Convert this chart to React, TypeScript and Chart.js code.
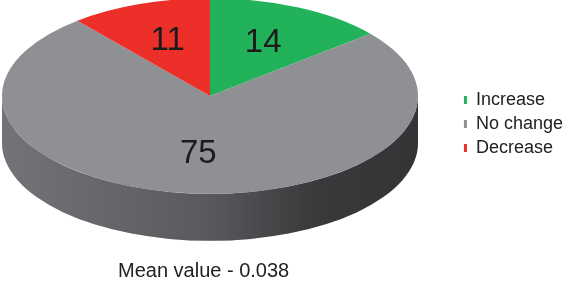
import React, { useEffect, useRef } from 'react';
import { Chart, registerables } from 'chart.js';

Chart.register(...registerables);

// ---- data ----
const categories = ['Increase', 'No change', 'Decrease'];
const values = [14, 75, 11];
const titleText = 'Mean value - 0.038';

// ---- style ----
const sliceColors = ['#22b25a', '#8e9094', '#ec2f29'];
const FONT = "'Liberation Sans', Arial, sans-serif";
const PIE_X = 210;
const PIE_Y = 96;
const TILT = 0.47;
const DEPTH = 47;
const RADIUS = 208;
const LABEL_POS = 0.6;

const pie3d = {
  id: 'pie3d',
  beforeDatasetsDraw(chart: any) {
    const ctx = chart.ctx as CanvasRenderingContext2D;
    const arcs = chart.getDatasetMeta(0).data as any[];
    if (!arcs.length) return;
    const cx = arcs[0].x;
    const cy = arcs[0].y;
    // side walls (front half only)
    ctx.save();
    arcs.forEach((arc, i) => {
      const { startAngle, endAngle, outerRadius } = arc.getProps(['startAngle', 'endAngle', 'outerRadius'], true);
      const R = outerRadius;
      for (let k = -1; k <= 2; k++) {
        const lo = Math.max(startAngle, k * 2 * Math.PI);
        const hi = Math.min(endAngle, k * 2 * Math.PI + Math.PI);
        if (hi <= lo) continue;
        ctx.beginPath();
        ctx.ellipse(PIE_X, PIE_Y, R, R * TILT, 0, lo, hi, false);
        ctx.ellipse(PIE_X, PIE_Y + DEPTH, R, R * TILT, 0, hi, lo, true);
        ctx.closePath();
        ctx.fillStyle = sliceColors[i];
        ctx.fill();
        const g = ctx.createLinearGradient(PIE_X - R, 0, PIE_X + R, 0);
        g.addColorStop(0, 'rgba(0,0,0,0.2)');
        g.addColorStop(0.5, 'rgba(0,0,0,0.38)');
        g.addColorStop(0.75, 'rgba(0,0,0,0.6)');
        g.addColorStop(1, 'rgba(0,0,0,0.64)');
        ctx.fillStyle = g;
        ctx.fill();
      }
    });
    ctx.restore();
    // tilt the top face
    ctx.save();
    ctx.translate(PIE_X, PIE_Y);
    ctx.scale(1, TILT);
    ctx.translate(-cx, -cy);
  },
  afterDatasetsDraw(chart: any) {
    const ctx = chart.ctx as CanvasRenderingContext2D;
    ctx.restore();
    const arcs = chart.getDatasetMeta(0).data as any[];
    const data = chart.data.datasets[0].data as number[];
    ctx.save();
    ctx.font = `33px ${FONT}`;
    ctx.fillStyle = '#1b1b1b';
    ctx.textAlign = 'center';
    ctx.textBaseline = 'middle';
    arcs.forEach((arc, i) => {
      const { startAngle, endAngle, outerRadius } = arc.getProps(['startAngle', 'endAngle', 'outerRadius'], true);
      const mid = (startAngle + endAngle) / 2;
      const r = outerRadius * LABEL_POS;
      const x = PIE_X + r * Math.cos(mid);
      const y = PIE_Y + r * Math.sin(mid) * TILT;
      ctx.fillText(String(data[i]), x, y);
    });
    ctx.restore();
  },
};

export default function App() {
  const ref = useRef<HTMLCanvasElement | null>(null);
  useEffect(() => {
    if (!ref.current) return;
    const chart = new Chart(ref.current, {
      type: 'pie',
      data: {
        labels: categories,
        datasets: [
          {
            data: values,
            backgroundColor: sliceColors,
            borderWidth: 0,
            clip: false as any,
            radius: RADIUS,
          } as any,
        ],
      },
      options: {
        responsive: false,
        animation: false,
        events: [],
        layout: { padding: { left: 118, top: 85, right: -5, bottom: 0 } },
        plugins: {
          tooltip: { enabled: false },
          legend: {
            position: 'right',
            align: 'start',
            labels: {
              boxWidth: 3,
              boxHeight: 8,
              padding: 6,
              color: '#222',
              font: { family: FONT, size: 18 },
            },
          },
          title: {
            display: true,
            text: titleText,
            position: 'bottom',
            align: 'start',
            fullSize: false,
            color: '#222',
            font: { family: FONT, size: 20, weight: 'normal' },
            padding: { top: 0, bottom: 2 },
          },
        },
      },
      plugins: [pie3d],
    } as any);
    return () => chart.destroy();
  }, []);
  return (
    <div style={{ position: 'absolute', left: 0, top: 0, width: 568, height: 285 }}>
      <canvas ref={ref} width={568} height={285} />
    </div>
  );
}
